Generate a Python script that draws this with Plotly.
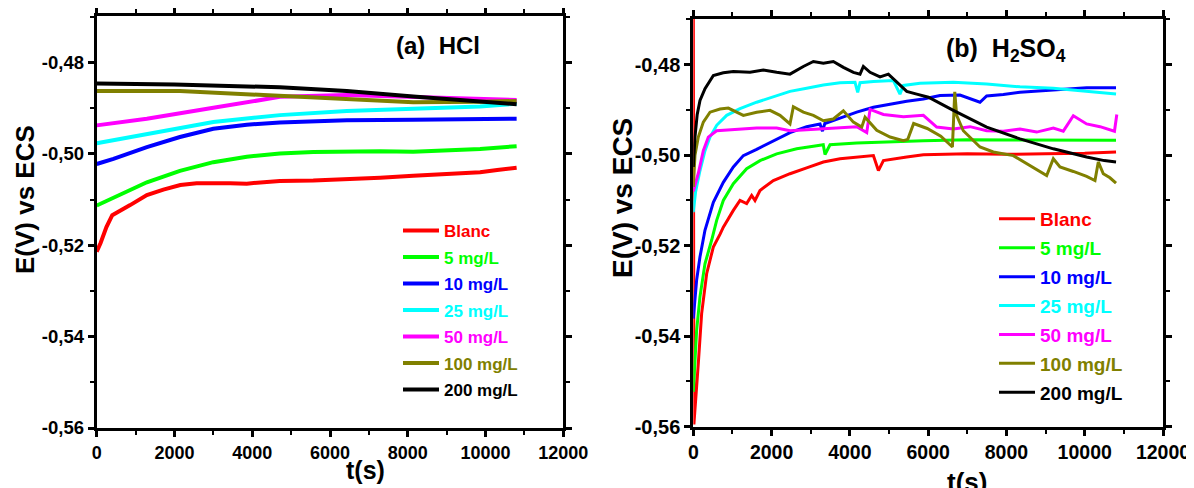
import plotly.graph_objects as go

# ---------------- data ----------------
labels = ["Blanc", "5 mg/L", "10 mg/L", "25 mg/L", "50 mg/L", "100 mg/L", "200 mg/L"]
colors = ["#FF0000", "#00FF00", "#0000FF", "#00FFFF", "#FF00FF", "#808000", "#000000"]

# (a) HCl
hcl_blanc_t = [0, 100, 250, 400, 860, 1290, 1715, 2150, 2570, 3000, 3430, 3860, 4290, 4710, 5570, 6430, 7290, 8140, 9000, 9860, 10300, 10800]
hcl_blanc_e = [-0.5214, -0.5195, -0.5160, -0.5134, -0.5112, -0.5090, -0.5078, -0.5068, -0.5064, -0.5063, -0.5064, -0.5065, -0.5061, -0.5059, -0.5058, -0.5056, -0.5052, -0.5048, -0.5044, -0.5040, -0.5035, -0.5030]
hcl_5_t = [0, 430, 1290, 2140, 3000, 3860, 4710, 5570, 6430, 7290, 8140, 9000, 9860, 10800]
hcl_5_e = [-0.5113, -0.5096, -0.5062, -0.5037, -0.5018, -0.5006, -0.4999, -0.4996, -0.4994, -0.4994, -0.4995, -0.4993, -0.4989, -0.4983]
hcl_10_t = [0, 430, 1290, 2140, 3000, 3860, 4710, 6430, 8140, 10800]
hcl_10_e = [-0.5022, -0.5011, -0.4985, -0.4963, -0.4945, -0.4936, -0.4931, -0.4926, -0.4925, -0.4923]
hcl_25_t = [0, 1290, 3000, 4710, 6430, 8140, 9860, 10800]
hcl_25_e = [-0.49765, -0.4956, -0.4930, -0.4915, -0.4906, -0.4901, -0.4896, -0.4890]
hcl_50_t = [0, 1290, 3000, 4710, 6430, 8140, 10800]
hcl_50_e = [-0.49375, -0.4923, -0.4899, -0.4875, -0.4871, -0.4876, -0.4882]
hcl_100_t = [0, 2140, 4290, 6430, 8140, 9860, 10800]
hcl_100_e = [-0.4862, -0.4862, -0.4871, -0.4880, -0.4887, -0.4886, -0.4884]
hcl_200_t = [0, 2000, 4710, 6430, 8140, 9860, 10800]
hcl_200_e = [-0.48456, -0.4848, -0.4854, -0.4862, -0.4874, -0.4885, -0.4891]

# (b) H2SO4
h2so4_blanc_t = [0, 15, 128, 213, 341, 511, 681, 767, 1023, 1193, 1363, 1491, 1576, 1704, 2045, 2470, 2896, 3323, 3749, 4175, 4601, 4729, 4857, 5453, 5878, 7000, 8000, 9000, 10000, 10800]
h2so4_blanc_e = [-0.462, -0.5595, -0.5460, -0.5350, -0.5262, -0.5203, -0.5175, -0.5159, -0.5122, -0.5100, -0.5107, -0.5089, -0.5100, -0.5078, -0.5056, -0.5041, -0.5028, -0.5015, -0.5008, -0.5004, -0.5001, -0.5034, -0.5012, -0.5004, -0.4999, -0.4997, -0.4998, -0.4997, -0.4996, -0.4993]
h2so4_5_t = [0, 85, 170, 298, 468, 597, 767, 1023, 1363, 1704, 2130, 2641, 3152, 3320, 3365, 3493, 4175, 5027, 5878, 7000, 8500, 10000, 10800]
h2so4_5_e = [-0.5523, -0.5387, -0.5313, -0.5240, -0.5188, -0.5144, -0.5100, -0.5063, -0.5030, -0.5012, -0.4997, -0.4986, -0.4979, -0.4977, -0.49985, -0.4977, -0.4973, -0.4970, -0.4968, -0.4966, -0.4966, -0.4967, -0.4967]
h2so4_10_t = [0, 85, 170, 298, 512, 767, 1023, 1278, 1619, 2130, 2470, 2896, 3238, 3300, 3360, 3749, 4175, 4601, 5027, 5453, 5878, 6303, 6813, 7324, 7495, 7921, 8346, 9198, 10049, 10800]
h2so4_10_e = [-0.5361, -0.5276, -0.5225, -0.5166, -0.5104, -0.5060, -0.5026, -0.5001, -0.4987, -0.4965, -0.4950, -0.4937, -0.4931, -0.4947, -0.4930, -0.4918, -0.4905, -0.4894, -0.4887, -0.4881, -0.4876, -0.4868, -0.4867, -0.4883, -0.4869, -0.4866, -0.4861, -0.4856, -0.4851, -0.4851]
h2so4_25_t = [0, 60, 171, 299, 427, 597, 853, 1193, 1619, 2045, 2470, 2896, 3323, 3749, 4132, 4200, 4260, 4601, 5112, 5280, 5368, 5793, 6643, 7495, 8346, 9198, 10049, 10800]
h2so4_25_e = [-0.5126, -0.5080, -0.5034, -0.4990, -0.4960, -0.4934, -0.4912, -0.4897, -0.4883, -0.4871, -0.4859, -0.4852, -0.4845, -0.4840, -0.4839, -0.4861, -0.4840, -0.4837, -0.4835, -0.4865, -0.4846, -0.4841, -0.4839, -0.4843, -0.4849, -0.4852, -0.4859, -0.4865]
h2so4_50_t = [0, 128, 256, 384, 597, 938, 1278, 1619, 2130, 2470, 2896, 3323, 3749, 4175, 4431, 4516, 4857, 5368, 5878, 6218, 6643, 7069, 7495, 7921, 8346, 8772, 9198, 9453, 9709, 10049, 10390, 10760, 10820]
h2so4_50_e = [-0.5080, -0.5040, -0.4990, -0.4960, -0.4946, -0.4944, -0.4942, -0.4940, -0.4940, -0.4946, -0.4944, -0.4942, -0.4940, -0.4937, -0.4950, -0.4899, -0.4910, -0.4915, -0.4912, -0.4938, -0.4942, -0.4937, -0.4946, -0.4947, -0.4942, -0.4949, -0.4940, -0.4947, -0.4913, -0.4931, -0.4937, -0.4947, -0.4910]
h2so4_100_t = [0, 43, 128, 256, 427, 682, 895, 1023, 1278, 1619, 1960, 2215, 2470, 2556, 2811, 3067, 3323, 3578, 3834, 4090, 4303, 4388, 4686, 5027, 5368, 5480, 5629, 5976, 6323, 6620, 6680, 6728, 6898, 7324, 7665, 8176, 8602, 9028, 9198, 9368, 9709, 10049, 10262, 10347, 10475, 10645, 10800]
h2so4_100_e = [-0.5070, -0.5000, -0.4960, -0.4927, -0.4905, -0.4898, -0.4896, -0.4901, -0.4912, -0.4905, -0.4901, -0.4912, -0.4931, -0.4893, -0.4905, -0.4912, -0.4924, -0.4920, -0.4902, -0.4927, -0.4938, -0.4916, -0.4945, -0.4960, -0.4968, -0.4965, -0.4930, -0.4941, -0.4958, -0.4982, -0.4860, -0.4912, -0.4946, -0.4982, -0.4993, -0.5001, -0.5023, -0.5045, -0.5008, -0.5026, -0.5036, -0.5047, -0.5056, -0.5015, -0.5041, -0.5050, -0.5062]
h2so4_200_t = [0, 43, 100, 171, 299, 512, 767, 1023, 1449, 1789, 2130, 2470, 2811, 3067, 3323, 3578, 3834, 4090, 4260, 4345, 4516, 4771, 4984, 5197, 5453, 5708, 6007, 6643, 7495, 8346, 9198, 10049, 10500, 10800]
h2so4_200_e = [-0.5026, -0.4960, -0.4910, -0.4879, -0.4853, -0.4824, -0.4818, -0.4815, -0.4817, -0.4812, -0.4817, -0.4821, -0.4804, -0.4793, -0.4797, -0.4793, -0.4806, -0.4817, -0.4821, -0.4804, -0.4817, -0.4827, -0.4821, -0.4839, -0.4859, -0.4865, -0.4872, -0.4901, -0.4938, -0.4964, -0.4986, -0.5004, -0.5012, -0.5015]

hcl_series = [(hcl_blanc_t, hcl_blanc_e), (hcl_5_t, hcl_5_e), (hcl_10_t, hcl_10_e), (hcl_25_t, hcl_25_e),
              (hcl_50_t, hcl_50_e), (hcl_100_t, hcl_100_e), (hcl_200_t, hcl_200_e)]
h2so4_series = [(h2so4_blanc_t, h2so4_blanc_e), (h2so4_5_t, h2so4_5_e), (h2so4_10_t, h2so4_10_e), (h2so4_25_t, h2so4_25_e),
                (h2so4_50_t, h2so4_50_e), (h2so4_100_t, h2so4_100_e), (h2so4_200_t, h2so4_200_e)]

x_ticks = [0, 2000, 4000, 6000, 8000, 10000, 12000]
x_ticktext = ["0", "2000", "4000", "6000", "8000", "10000", "12000"]
y_ticks = [-0.56, -0.54, -0.52, -0.50, -0.48]
y_ticktext = ["-0,56", "-0,54", "-0,52", "-0,50", "-0,48"]

FONT = "Liberation Sans, Arial, sans-serif"
# the page body has an 8px margin; size the figure so it fills the window exactly
OFF = 8
W, H = 1194 - OFF, 488 - OFF

fig = go.Figure()
for i, (t, e) in enumerate(hcl_series):
    fig.add_trace(go.Scatter(x=t, y=e, mode="lines", xaxis="x", yaxis="y",
                             line=dict(color=colors[i], width=4),
                             name=f"<span style='color:{colors[i]}'>{labels[i]}</span>",
                             legend="legend", legendgroup=f"a{i}"))
for i, (t, e) in enumerate(h2so4_series):
    fig.add_trace(go.Scatter(x=t, y=e, mode="lines", xaxis="x2", yaxis="y2",
                             line=dict(color=colors[i], width=3),
                             name=f"<span style='color:{colors[i]}'>{labels[i]}</span>",
                             legend="legend2", legendgroup=f"b{i}"))


def xax(domain, anchor, fs):
    return dict(domain=domain, anchor=anchor, range=[0, 12000], tickvals=x_ticks, ticktext=x_ticktext,
                ticks="outside", ticklen=6, tickwidth=2.5, tickcolor="black",
                minor=dict(ticks="outside", ticklen=4, tickwidth=2, tickcolor="black", dtick=1000),
                showline=True, linewidth=3, linecolor="black", mirror="ticks",
                showgrid=False, zeroline=False, automargin=False,
                tickfont=dict(family=FONT, size=fs, color="black", weight="bold"))


def yax(domain, anchor, fs):
    return dict(domain=domain, anchor=anchor, range=[-0.56, -0.4698], tickvals=y_ticks, ticktext=y_ticktext,
                ticks="outside", ticklen=6, tickwidth=2.5, tickcolor="black",
                minor=dict(ticks="outside", ticklen=4, tickwidth=2, tickcolor="black", dtick=0.01),
                showline=True, linewidth=3, linecolor="black", mirror="ticks",
                showgrid=False, zeroline=False, automargin=False,
                tickfont=dict(family=FONT, size=fs, color="black", weight="bold"))


def px(x):
    return (x - OFF) / W


def py(y):
    return 1 - (y - OFF) / H


annotations = [
    dict(text="(a)  HCl", x=px(438), y=py(46), xref="paper", yref="paper", showarrow=False,
         xanchor="center", yanchor="middle", font=dict(family=FONT, size=24, color="black", weight="bold")),
    dict(text="(b)  H<sub>2</sub>SO<sub>4</sub>", x=px(1006), y=py(50), xref="paper", yref="paper", showarrow=False,
         xanchor="center", yanchor="middle", font=dict(family=FONT, size=25, color="black", weight="bold")),
    dict(text="E(V) vs ECS", x=px(25), y=py(200), xref="paper", yref="paper", showarrow=False, textangle=-90,
         xanchor="center", yanchor="middle", font=dict(family=FONT, size=26, color="black", weight="bold")),
    dict(text="E(V) vs ECS", x=px(623), y=py(198), xref="paper", yref="paper", showarrow=False, textangle=-90,
         xanchor="center", yanchor="middle", font=dict(family=FONT, size=28, color="black", weight="bold")),
    dict(text="t(s)", x=px(365), y=py(470), xref="paper", yref="paper", showarrow=False,
         xanchor="center", yanchor="middle", font=dict(family=FONT, size=25, color="black", weight="bold")),
    dict(text="t(s)", x=px(967), y=py(482), xref="paper", yref="paper", showarrow=False,
         xanchor="center", yanchor="middle", font=dict(family=FONT, size=26, color="black", weight="bold")),
]

fig.update_layout(
    width=W, height=H, template="none",
    margin=dict(l=0, r=0, t=0, b=0, autoexpand=False),
    paper_bgcolor="white", plot_bgcolor="white",
    xaxis=xax([px(96.7), px(563.3)], "y", 18),
    yaxis=yax([py(428), py(16)], "x", 18.5),
    xaxis2=xax([px(693.3), px(1163)], "y2", 19.5),
    yaxis2=yax([py(426.7), py(18.5)], "x2", 20),
    legend=dict(x=px(398), y=py(213), xanchor="left", yanchor="top", itemwidth=36,
                tracegroupgap=1.4, traceorder="grouped", bgcolor="rgba(0,0,0,0)",
                font=dict(family=FONT, size=17, color="black", weight="bold")),
    legend2=dict(x=px(994), y=py(200), xanchor="left", yanchor="top", itemwidth=36,
                 tracegroupgap=1.2, traceorder="grouped", bgcolor="rgba(0,0,0,0)",
                 font=dict(family=FONT, size=19, color="black", weight="bold")),
    annotations=annotations,
    showlegend=True,
)

fig.write_html("out.html")
